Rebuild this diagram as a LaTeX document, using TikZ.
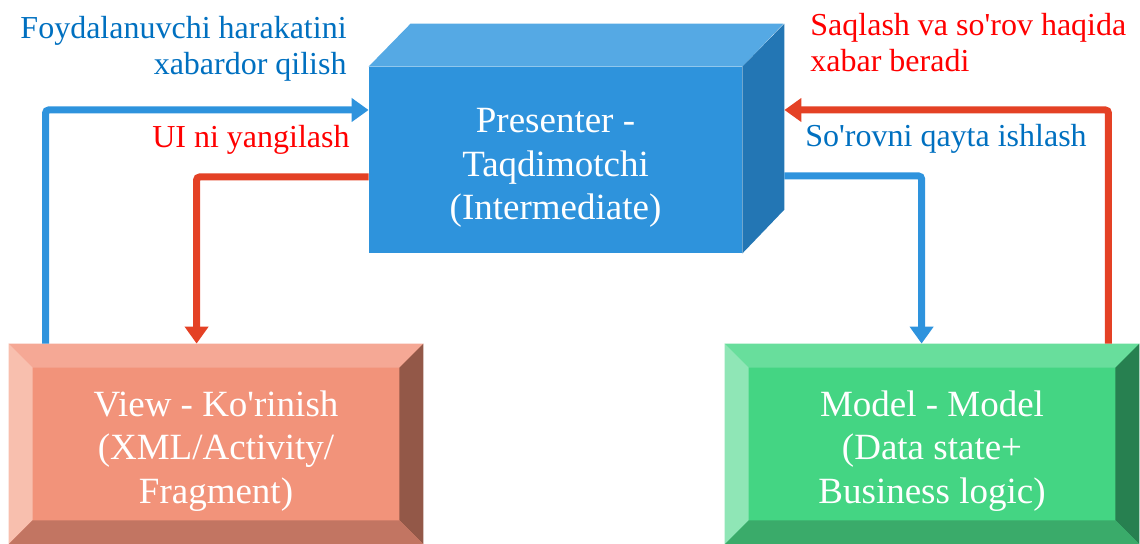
\documentclass[tikz,border=0pt]{standalone}
\usepackage{fontspec}
\setmainfont{Liberation Serif}
\usetikzlibrary{arrows.meta}
\definecolor{presfront}{HTML}{2E93DC}
\definecolor{prestop}{HTML}{55A9E4}
\definecolor{presside}{HTML}{2376B4}
\definecolor{viewmid}{HTML}{F2937A}
\definecolor{viewtop}{HTML}{F5A895}
\definecolor{viewleft}{HTML}{F8BFAE}
\definecolor{viewright}{HTML}{935848}
\definecolor{viewbot}{HTML}{C27562}
\definecolor{modelmid}{HTML}{44D583}
\definecolor{modeltop}{HTML}{68DE9C}
\definecolor{modelleft}{HTML}{8FE6B6}
\definecolor{modelright}{HTML}{278050}
\definecolor{modelbot}{HTML}{3AAB6A}
\definecolor{arrowblue}{HTML}{2E93DD}
\definecolor{arrowred}{HTML}{E44125}
\definecolor{labelblue}{HTML}{0070C0}
\definecolor{labelred}{HTML}{FF0000}
\newcommand\q{\textquotesingle}
% four bevel faces round a node: name, top, left, right, bottom
\newcommand\bevelfaces[5]{%
  \path ([shift={(24,24)}]#1.north west) coordinate (#1-a)
        ([shift={(-24,24)}]#1.north east) coordinate (#1-b)
        ([shift={(-24,-24)}]#1.south east) coordinate (#1-c)
        ([shift={(24,-24)}]#1.south west) coordinate (#1-d);
  \fill[#2] (#1.north west) -- (#1.north east) -- (#1-b) -- (#1-a) -- cycle;
  \fill[#3] (#1.north west) -- (#1-a) -- (#1-d) -- (#1.south west) -- cycle;
  \fill[#4] (#1.north east) -- (#1.south east) -- (#1-c) -- (#1-b) -- cycle;
  \fill[#5] (#1.south west) -- (#1-d) -- (#1-c) -- (#1.south east) -- cycle;
}

\begin{document}
\begin{tikzpicture}[x=0.5pt,y=-0.5pt,
    boxtext/.style={text=white, align=center, inner sep=0pt,
      font=\fontsize{18.5}{21.6}\selectfont},
    lbl/.style={inner sep=0pt, font=\fontsize{16}{18.2}\selectfont},
    bluearrow/.style={line width=3.5pt, draw=arrowblue, rounded corners=1.5pt,
      -{Triangle[length=8.5pt,width=11.5pt]}},
    redarrow/.style={bluearrow, draw=arrowred}]
  %%%%% START %%%%%
  \useasboundingbox (0,0) rectangle (1140,544);

  % presenter block
  \node[fill=presfront, minimum width=186.5pt, minimum height=93pt] (pres) at (555.5,160) {};
  \fill[prestop] (pres.north west) -- ++(42,-43) -- ++(373,0) -- (pres.north east) -- cycle;
  \fill[presside] (pres.north east) -- ++(42,-43) -- ++(0,186) -- (pres.south east) -- cycle;
  \node[boxtext] (prestext) at ([yshift=-4pt]pres.center) {Presenter -\\Taqdimotchi\\(Intermediate)};
  \coordinate (presback) at ([xshift=21pt]pres.east);

  % view block
  \node[fill=viewmid, minimum width=207pt, minimum height=100pt] (view) at (216,444) {};
  \bevelfaces{view}{viewtop}{viewleft}{viewright}{viewbot}
  \node[boxtext] (viewtext) at ([yshift=-3.5pt]view.center) {View - Ko\q rinish\\(XML/Activity/\\Fragment)};

  % model block
  \node[fill=modelmid, minimum width=207pt, minimum height=100pt] (model) at (932,444) {};
  \bevelfaces{model}{modeltop}{modelleft}{modelright}{modelbot}
  \node[boxtext] (modeltext) at ([yshift=-3.5pt]model.center) {Model - Model\\(Data state+\\Business logic)};

  % arrows
  \draw[bluearrow] ([xshift=18.5pt]view.north west) |- ([yshift=25pt]pres.west);
  \draw[redarrow] ([yshift=-8.5pt]pres.west) -| ([xshift=94pt]view.north west);
  \draw[bluearrow] ([yshift=-8pt]presback) -| ([xshift=98.5pt]model.north west);
  \draw[redarrow] ([xshift=-15.5pt]model.north east) |- ([yshift=25pt]presback);

  % labels
  \node[lbl, text=labelblue, align=right, anchor=north east] (lnotify) at (347,16)
    {Foydalanuvchi harakatini\\xabardor qilish};
  \node[lbl, text=labelred, anchor=base east] (lupdate) at (350,148) {UI ni yangilash};
  \node[lbl, text=labelred, align=left, anchor=north west] (lsave) at (810,13)
    {Saqlash va so\q rov haqida\\xabar beradi};
  \node[lbl, text=labelblue, anchor=base west] (lprocess) at (805,147) {So\q rovni qayta ishlash};
  %%%%% END %%%%%
\end{tikzpicture}
\end{document}
